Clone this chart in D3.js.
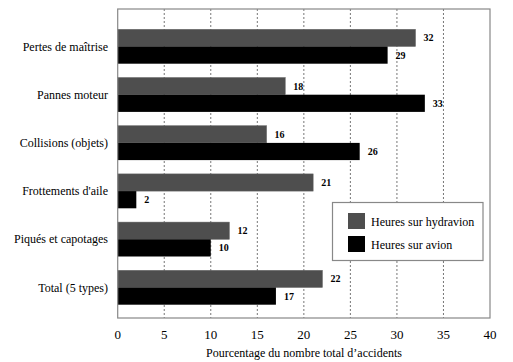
<!DOCTYPE html>
<html><head><meta charset="utf-8">
<script src="https://cdn.jsdelivr.net/npm/d3@7"></script>
<style>body{margin:0;background:#fff}svg{display:block}svg text{font-family:'Liberation Serif','DejaVu Serif','Times New Roman',serif}</style>
</head><body>
<script>
const categories = ["Pertes de maîtrise","Pannes moteur","Collisions (objets)","Frottements d'aile","Piqués et capotages","Total (5 types)"];
const hydravion = [32,18,16,21,12,22];
const avion = [29,33,26,2,10,17];
const seriesNames = ["Heures sur hydravion","Heures sur avion"];
const xTicks = [0,5,10,15,20,25,30,35,40];
const xTitle = "Pourcentage du nombre total d’accidents";

const W=513,H=362;
const L=117.7,R=490,T=9,B=318;
const svg=d3.select("body").append("svg").attr("width",W).attr("height",H);
const x=d3.scaleLinear().domain([0,40]).range([L,R]);
const y=d3.scaleBand().domain(categories).range([22.4,311.6]).padding(0);
const colors=["#4e4e4e","#000"];

// grid
svg.append("g").selectAll("line").data(xTicks.slice(1,-1)).join("line")
  .attr("x1",d=>x(d)).attr("x2",d=>x(d)).attr("y1",T).attr("y2",B)
  .attr("stroke","#777").attr("stroke-width",1).attr("stroke-dasharray","2,2");

const bh=17.2;
const g=svg.append("g");
categories.forEach((c,i)=>{
  const cy=y(c)+y.bandwidth()/2;
  [hydravion[i],avion[i]].forEach((v,j)=>{
    const y0=cy-bh+j*bh;
    g.append("rect").attr("x",x(0)).attr("y",y0).attr("width",x(v)-x(0)).attr("height",bh)
      .attr("fill",colors[j]).attr("stroke",j===0?"#666":"none").attr("stroke-width",0.5);
    g.append("text").attr("x",x(v)+8).attr("y",y0+bh/2+3.5).text(v)
      .attr("font-size",10).attr("font-weight","bold");
  });
  svg.append("text").attr("x",108).attr("y",cy+4).attr("text-anchor","end").text(c)
    .attr("font-size",12);
});

// frame
svg.append("rect").attr("x",L).attr("y",T).attr("width",R-L).attr("height",B-T)
  .attr("fill","none").attr("stroke","#888").attr("stroke-width",1.2);

// x ticks
svg.append("g").selectAll("text").data(xTicks).join("text")
  .attr("x",d=>x(d)).attr("y",339).attr("text-anchor","middle").text(d=>d)
  .attr("font-size",13);
svg.append("text").attr("x",304).attr("y",357).attr("text-anchor","middle").text(xTitle)
  .attr("font-size",12);

// legend
const lg=svg.append("g");
lg.append("rect").attr("x",332.5).attr("y",202.5).attr("width",150.5).attr("height",58)
  .attr("fill","#fff").attr("stroke","#888").attr("stroke-width",1.2);
seriesNames.forEach((s,j)=>{
  lg.append("rect").attr("x",348).attr("y",213+j*23).attr("width",17).attr("height",16)
    .attr("fill",colors[j]);
  lg.append("text").attr("x",371).attr("y",226+j*23).text(s)
    .attr("font-size",12);
});
</script>
</body></html>
